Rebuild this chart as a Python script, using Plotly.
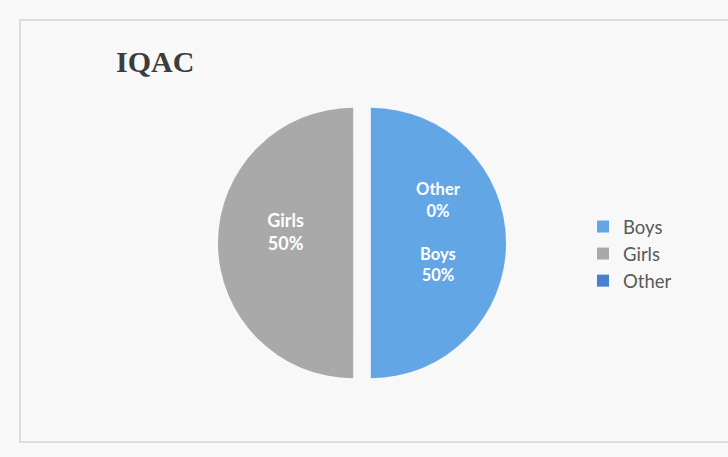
import plotly.graph_objects as go

labels = ["Boys", "Girls", "Other"]
values = [50, 50, 0]
colors = ["#62a6e6", "#a9a9a9", "#4a7fcc"]
slice_text = ["Other<br>0%<br><br>Boys<br>50%<br> ", "Girls<br>50%<br> ", ""]
title_text = "IQAC"

W, H = 728, 457

fig = go.Figure()
fig.add_trace(go.Pie(
    labels=labels,
    values=values,
    text=slice_text,
    textinfo="text",
    textposition="inside",
    insidetextorientation="horizontal",
    textfont=dict(family="Lato", size=[16.5, 18, 16], color="white", weight="bold"),
    marker=dict(colors=colors, line=dict(width=0)),
    sort=False,
    direction="clockwise",
    rotation=0,
    pull=[0.065, 0.065, 0],
    domain=dict(x=[(362 - 144) / W, (362 + 144) / W], y=[1 - 387 / H, 1 - 99 / H]),
    hoverinfo="label+percent",
    showlegend=True,
))

fig.update_layout(
    width=W, height=H,
    margin=dict(l=0, r=0, t=0, b=0),
    paper_bgcolor="#f8f8f8",
    plot_bgcolor="#f8f8f8",
    showlegend=True,
    legend=dict(
        x=583 / W, y=1 - 254 / H, xanchor="left", yanchor="middle",
        font=dict(family="Lato", size=18.5, color="#595959"),
        bgcolor="rgba(0,0,0,0)",
        traceorder="normal",
    ),
    annotations=[dict(
        text="<b>" + title_text + "</b>", x=114 / W, y=1 - 62 / H,
        xref="paper", yref="paper", xanchor="left", yanchor="middle",
        showarrow=False,
        font=dict(family="Liberation Serif", size=30, color="#3c3c3c"),
    )],
    shapes=[dict(
        type="rect", xref="paper", yref="paper",
        x0=20 / W, x1=1.01, y0=1 - 442 / H, y1=1 - 20 / H,
        line=dict(color="#d2d2d2", width=1.5), fillcolor="rgba(0,0,0,0)",
        layer="below",
    )],
)

fig.write_html("out.html", config={"displayModeBar": False},
               post_script="document.body.style.margin='0';")
